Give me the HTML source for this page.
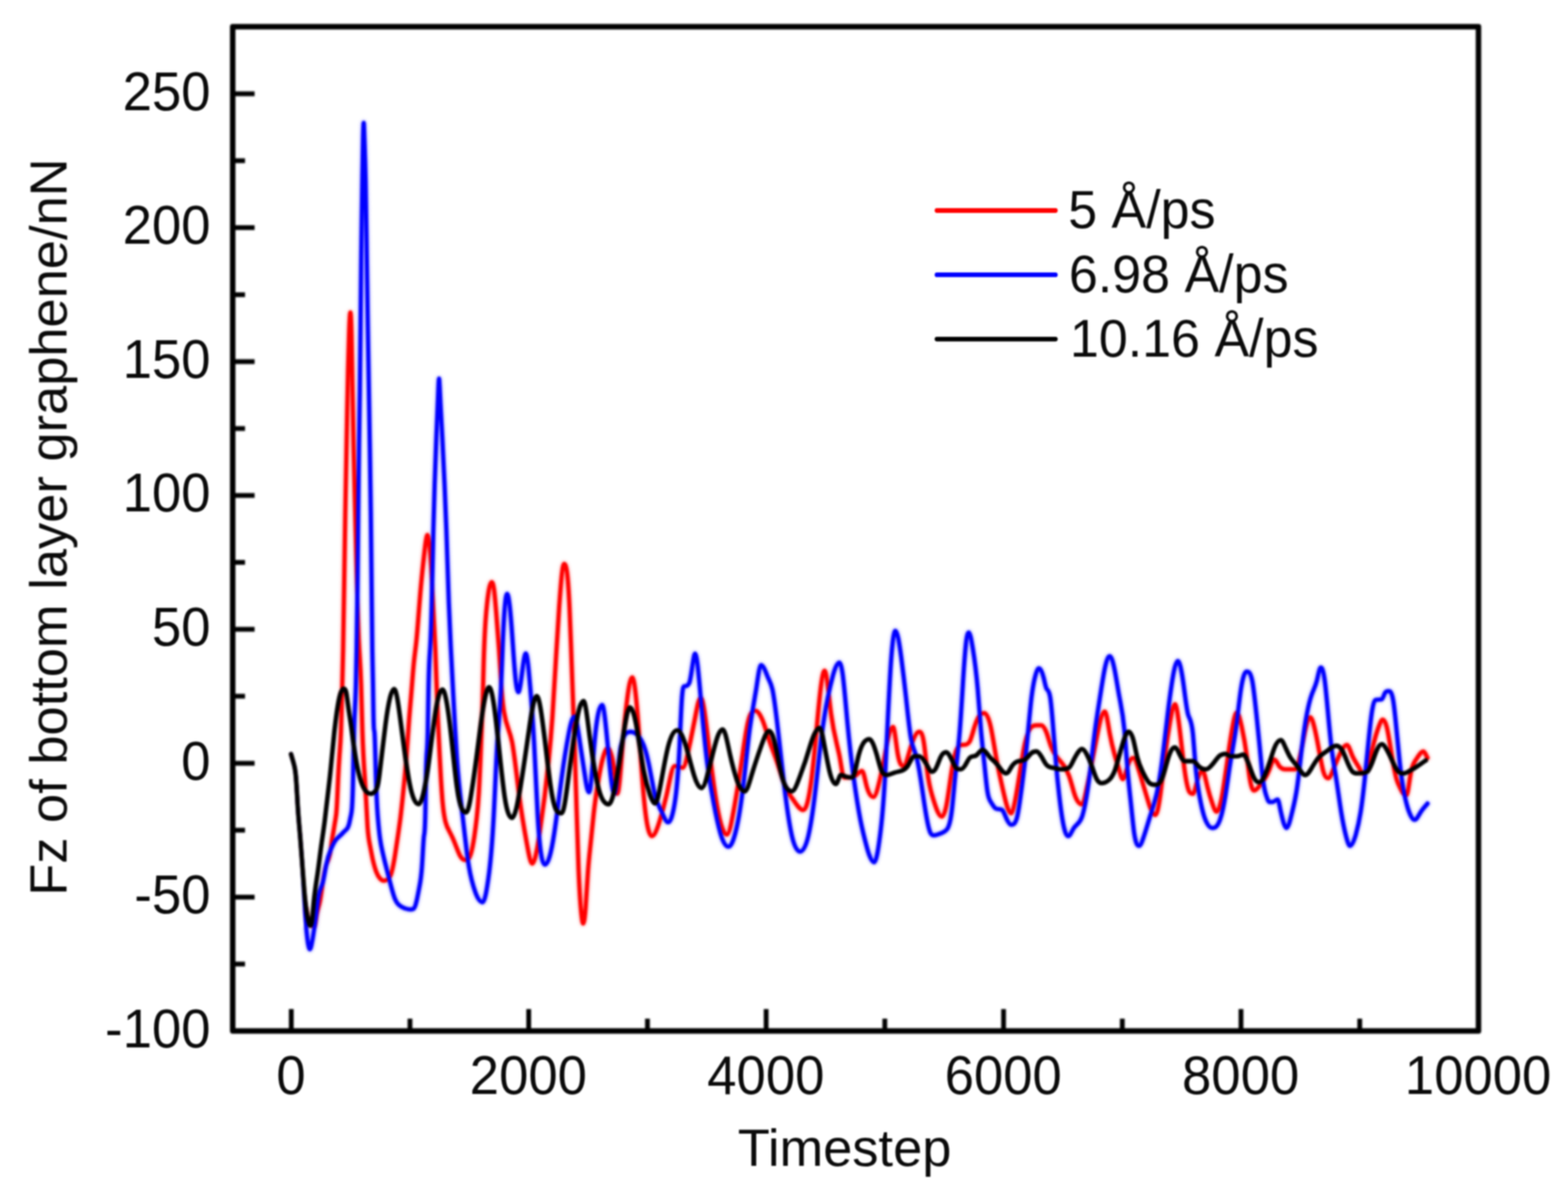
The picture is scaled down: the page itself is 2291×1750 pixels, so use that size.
<!DOCTYPE html>
<html lang="en">
<head>
<meta charset="utf-8">
<title>Fz of bottom layer graphene vs Timestep</title>
<style>
html,body{margin:0;padding:0;background:#fff;}
body{width:2291px;height:1750px;overflow:hidden;font-family:"Liberation Sans",Arial,sans-serif;}
svg{display:block;}
</style>
</head>
<body>
<svg xmlns="http://www.w3.org/2000/svg" width="2291" height="1750" viewBox="0 0 2291 1750">
<rect width="2291" height="1750" fill="#fff"/>
<g fill="none" stroke-linejoin="round" stroke-linecap="round" stroke-width="9" opacity="0.25" style="filter:blur(2.5px)">
<path stroke="#ff0000" d="M448.0 1330.0C449.0 1335.2 450.0 1341.4 451.0 1345.7C451.8 1349.2 452.6 1351.1 453.5 1351.1C454.4 1351.1 455.3 1347.0 456.2 1347.0C457.1 1347.0 458.0 1355.9 458.9 1355.9C460.2 1355.9 461.5 1344.5 462.7 1336.8C464.3 1327.2 465.9 1324.5 467.5 1316.4C468.9 1309.4 470.2 1298.4 471.6 1289.1C473.2 1278.3 474.8 1269.8 476.4 1264.5C478.6 1257.1 480.9 1256.4 483.2 1241.4C483.9 1236.9 484.5 1231.1 485.2 1226.4C485.9 1221.7 486.6 1218.1 487.3 1214.1C488.2 1208.8 489.1 1202.7 490.0 1197.7C490.7 1194.0 491.4 1190.8 492.0 1180.0C492.7 1169.2 493.4 1150.9 494.1 1136.4C494.8 1121.8 495.5 1111.2 496.1 1102.3C496.8 1093.4 497.5 1086.3 498.2 1068.2C498.8 1052.1 499.4 1027.2 500.0 1004.0C500.4 987.4 500.9 971.6 501.3 950.0C501.8 925.0 502.3 892.3 502.8 859.0C503.4 821.3 503.9 782.8 504.5 750.0C505.0 721.1 505.5 696.6 506.0 670.0C506.4 646.9 506.9 622.3 507.3 600.0C507.7 577.7 508.2 557.9 508.6 540.0C509.1 520.8 509.5 503.9 510.0 490.0C510.6 471.2 511.3 456.5 511.9 456.5C512.5 456.5 513.0 463.7 513.6 490.0C514.0 508.6 514.4 536.1 514.8 560.0C515.4 595.9 516.0 623.7 516.6 650.0C517.4 685.0 518.2 717.2 519.0 750.0C519.8 784.1 520.7 818.8 521.5 850.0C522.5 887.4 523.5 919.7 524.5 940.0C525.5 961.0 526.6 969.3 527.6 1000.0C528.2 1019.2 528.9 1047.3 529.5 1068.2C530.7 1104.8 531.8 1119.3 533.0 1136.4C533.6 1146.6 534.3 1157.8 535.0 1170.5C535.7 1183.1 536.4 1197.3 537.0 1207.3C538.2 1223.9 539.3 1229.0 540.5 1234.5C541.8 1241.2 543.2 1248.7 544.5 1255.0C546.4 1263.3 548.2 1269.5 550.0 1274.1C551.8 1278.7 553.6 1281.6 555.5 1283.6C557.3 1285.6 559.1 1286.6 560.9 1286.6C562.7 1286.6 564.5 1285.7 566.4 1284.3C568.2 1283.0 570.0 1281.3 571.8 1275.5C573.6 1269.6 575.5 1259.7 577.3 1248.2C578.6 1239.6 580.0 1230.1 581.4 1220.9C582.6 1212.4 583.9 1204.1 585.2 1193.6C586.3 1184.6 587.4 1174.0 588.5 1163.6C590.2 1147.3 591.9 1131.7 593.6 1109.1C594.9 1092.3 596.2 1071.6 597.5 1054.5C598.7 1038.2 600.0 1025.1 601.2 1010.0C602.3 996.5 603.4 981.3 604.5 970.0C605.8 956.3 607.2 948.2 608.5 935.0C609.7 923.4 610.8 907.9 612.0 893.0C613.1 879.4 614.1 866.3 615.2 854.6C616.6 839.6 617.9 826.7 619.3 814.4C620.2 806.3 621.1 798.4 622.0 792.0C622.9 785.8 623.7 781.5 624.6 781.5C625.5 781.5 626.3 787.8 627.2 795.0C628.1 802.7 629.1 811.9 630.0 827.8C630.7 839.1 631.3 853.9 632.0 868.0C632.7 882.1 633.3 895.6 634.0 908.0C634.7 920.4 635.3 931.6 636.0 948.0C636.5 960.3 637.0 975.6 637.5 990.0C638.3 1014.0 639.2 1035.8 640.0 1054.5C640.9 1075.0 641.8 1091.9 642.7 1109.1C643.6 1126.3 644.5 1143.7 645.5 1156.8C646.1 1166.6 646.8 1174.0 647.5 1180.0C648.6 1190.0 649.8 1196.0 650.9 1200.5C652.7 1207.6 654.5 1210.8 656.4 1214.1C658.2 1217.4 660.0 1220.9 661.8 1225.0C663.6 1229.1 665.5 1234.0 667.3 1238.6C669.1 1243.3 670.9 1247.9 672.7 1250.9C675.5 1255.5 678.2 1256.4 680.9 1256.4C683.2 1256.4 685.5 1255.2 687.7 1248.2C689.5 1242.6 691.4 1233.2 693.2 1220.9C694.3 1213.4 695.4 1204.8 696.5 1195.0C697.5 1186.1 698.5 1176.2 699.5 1160.0C700.3 1147.6 701.0 1131.5 701.8 1113.0C702.4 1098.5 703.0 1082.6 703.6 1068.0C704.2 1054.3 704.7 1041.8 705.3 1022.0C705.7 1006.9 706.2 987.5 706.6 972.0C707.0 956.5 707.5 944.7 707.9 935.0C708.5 922.3 709.0 912.9 709.6 905.0C710.3 895.3 711.0 887.8 711.7 881.4C712.8 871.0 714.0 863.1 715.1 858.0C716.2 853.2 717.2 850.5 718.3 850.5C719.5 850.5 720.6 852.7 721.8 861.0C722.9 868.6 723.9 881.1 725.0 894.8C725.7 903.4 726.3 912.4 727.0 921.0C727.7 930.0 728.4 938.5 729.1 948.3C729.8 957.6 730.4 968.1 731.1 979.0C731.8 989.9 732.4 1001.1 733.1 1010.0C734.2 1024.7 735.3 1033.3 736.4 1040.0C740.3 1063.8 744.2 1063.9 748.2 1083.9C751.7 1102.1 755.3 1136.9 758.9 1164.2C762.4 1191.6 766.0 1211.6 769.6 1231.2C772.3 1245.9 774.9 1261.6 777.6 1261.6C781.2 1261.6 784.8 1241.7 788.3 1217.8C792.8 1187.9 797.3 1154.5 801.7 1110.7C803.5 1093.0 805.3 1073.7 807.1 1047.9C808.9 1022.0 810.7 989.6 812.5 958.6C814.0 932.8 815.5 907.9 817.0 887.0C819.4 854.0 821.7 823.8 824.1 823.8C826.8 823.8 829.4 828.8 832.1 887.0C832.8 902.3 833.5 920.7 834.2 940.0C835.0 963.0 835.9 987.2 836.7 1010.0C837.7 1036.5 838.6 1061.1 839.6 1090.0C840.5 1117.9 841.5 1149.9 842.4 1181.0C843.4 1214.3 844.4 1246.8 845.4 1271.0C846.5 1296.9 847.5 1313.4 848.6 1326.0C849.8 1339.7 850.9 1349.0 852.1 1349.0C853.3 1349.0 854.4 1341.2 855.6 1326.0C856.7 1311.2 857.9 1289.9 859.0 1274.0C860.4 1254.4 861.8 1243.2 863.2 1230.0C864.6 1216.5 866.1 1200.9 867.5 1188.0C869.3 1171.5 871.2 1159.4 873.0 1148.0C875.0 1135.5 877.0 1123.9 879.0 1115.0C880.7 1107.6 882.3 1102.1 884.0 1098.0C885.3 1094.7 886.7 1092.5 888.0 1092.5C889.7 1092.5 891.3 1096.6 893.0 1102.0C894.5 1107.0 896.1 1113.2 897.6 1126.2C899.0 1138.3 900.5 1159.4 901.9 1159.4C904.4 1159.4 907.0 1123.1 909.5 1090.5C911.9 1059.9 914.3 1037.3 916.7 1019.0C919.0 1000.8 921.4 989.4 923.8 989.4C927.0 989.4 930.2 1024.6 933.3 1066.7C935.7 1098.2 938.1 1135.5 940.5 1161.9C944.4 1206.0 948.4 1221.3 952.4 1221.3C956.3 1221.3 960.3 1210.8 964.3 1197.6C967.5 1187.1 970.6 1175.7 973.8 1161.9C977.8 1144.7 981.7 1119.0 985.7 1119.0C989.7 1119.0 993.7 1121.4 997.6 1121.4C1000.8 1121.4 1004.0 1105.2 1007.1 1090.5C1010.3 1075.7 1013.5 1059.2 1016.7 1042.9C1019.0 1030.6 1021.4 1019.1 1023.8 1019.1C1027.8 1019.1 1031.7 1057.3 1035.7 1090.5C1038.9 1117.0 1042.1 1141.2 1045.2 1161.9C1050.8 1198.2 1056.3 1219.0 1061.9 1219.0C1065.9 1219.0 1069.8 1196.1 1073.8 1173.8C1077.0 1156.0 1080.2 1136.2 1083.3 1114.3C1086.5 1092.4 1089.7 1068.4 1092.9 1054.8C1096.4 1039.4 1100.0 1038.2 1103.6 1038.2C1107.1 1038.2 1110.7 1043.6 1114.3 1052.4C1117.5 1060.2 1120.6 1071.4 1123.8 1081.0C1127.8 1092.9 1131.7 1102.3 1135.7 1114.3C1139.7 1126.3 1143.7 1140.8 1147.6 1150.0C1151.6 1159.2 1155.6 1163.1 1159.5 1169.0C1164.3 1176.2 1169.0 1183.3 1173.8 1183.3C1177.8 1183.3 1181.7 1168.8 1185.7 1138.1C1188.9 1113.5 1192.1 1076.9 1195.2 1042.9C1198.4 1008.8 1201.6 979.8 1204.8 979.8C1207.9 979.8 1211.1 1018.8 1214.3 1042.9C1218.3 1072.9 1222.2 1083.5 1226.2 1102.4C1228.6 1113.7 1231.0 1135.7 1233.3 1135.7C1237.3 1135.7 1241.3 1135.7 1245.2 1135.7C1250.0 1135.7 1254.8 1126.3 1259.5 1126.3C1261.9 1126.3 1264.3 1142.1 1266.7 1150.0C1269.8 1160.6 1273.0 1164.2 1276.2 1164.2C1279.4 1164.2 1282.5 1151.5 1285.7 1138.1C1288.9 1124.7 1292.1 1108.2 1295.2 1090.5C1298.4 1072.8 1301.6 1062.0 1304.8 1062.0C1307.1 1062.0 1309.5 1089.3 1311.9 1102.4C1314.7 1117.6 1317.5 1119.0 1320.2 1119.0C1323.8 1119.0 1327.4 1101.3 1331.0 1090.5C1334.9 1078.4 1338.9 1069.1 1342.9 1069.1C1345.2 1069.1 1347.6 1069.7 1350.0 1085.7C1351.6 1096.4 1353.2 1113.6 1354.8 1126.2C1357.1 1145.1 1359.5 1153.8 1361.9 1161.9C1364.3 1170.0 1366.7 1177.5 1369.0 1183.3C1371.4 1189.2 1373.8 1192.8 1376.2 1192.8C1378.6 1192.8 1381.0 1186.5 1383.3 1173.8C1385.7 1161.1 1388.1 1141.2 1390.5 1126.2C1392.9 1111.2 1395.2 1100.6 1397.6 1095.2C1400.8 1088.1 1404.0 1088.1 1407.1 1088.1C1410.3 1088.1 1413.5 1088.1 1416.7 1083.3C1419.0 1079.8 1421.4 1069.4 1423.8 1061.9C1426.2 1054.4 1428.6 1048.7 1431.0 1045.2C1433.3 1041.8 1435.7 1041.7 1438.1 1041.7C1441.3 1041.7 1444.4 1047.6 1447.6 1061.9C1450.0 1072.6 1452.4 1088.7 1454.8 1102.4C1457.1 1116.0 1459.5 1127.2 1461.9 1138.1C1464.3 1149.0 1466.7 1159.5 1469.0 1169.0C1471.8 1180.2 1474.6 1188.0 1477.4 1188.0C1479.4 1188.0 1481.3 1179.1 1483.3 1169.0C1485.7 1157.0 1488.1 1141.4 1490.5 1126.2C1492.9 1111.0 1495.2 1096.3 1497.6 1085.7C1500.8 1071.6 1504.0 1064.8 1507.1 1061.9C1509.5 1059.8 1511.9 1059.5 1514.3 1059.5C1516.7 1059.5 1519.0 1059.5 1521.4 1059.5C1523.8 1059.5 1526.2 1063.2 1528.6 1069.0C1531.0 1074.9 1533.3 1084.0 1535.7 1090.5C1538.9 1099.2 1542.1 1103.3 1545.2 1107.1C1548.4 1111.0 1551.6 1114.4 1554.8 1119.0C1557.1 1122.5 1559.5 1126.7 1561.9 1133.3C1564.3 1140.0 1566.7 1149.0 1569.0 1157.1C1573.0 1170.6 1577.0 1174.9 1581.0 1174.9C1583.3 1174.9 1585.7 1161.0 1588.1 1150.0C1591.3 1135.4 1594.4 1119.1 1597.6 1102.4C1600.8 1085.7 1604.0 1068.6 1607.1 1054.8C1609.5 1044.4 1611.9 1039.4 1614.3 1039.4C1616.7 1039.4 1619.0 1058.7 1621.4 1071.4C1623.8 1084.2 1626.2 1093.9 1628.6 1102.4C1631.0 1110.8 1633.3 1118.0 1635.7 1126.2C1637.3 1131.7 1638.9 1138.0 1640.5 1138.0C1642.9 1138.0 1645.2 1127.0 1647.6 1119.0C1650.4 1109.7 1653.2 1107.2 1656.0 1107.2C1658.7 1107.2 1661.5 1117.3 1664.3 1126.2C1666.7 1133.8 1669.0 1141.9 1671.4 1150.0C1673.8 1158.1 1676.2 1166.1 1678.6 1173.8C1681.7 1184.0 1684.9 1190.4 1688.1 1190.4C1690.5 1190.4 1692.9 1178.5 1695.2 1161.9C1697.6 1145.3 1700.0 1121.5 1702.4 1102.4C1704.8 1083.3 1707.1 1068.8 1709.5 1054.8C1711.9 1040.7 1714.3 1028.7 1716.7 1028.7C1719.0 1028.7 1721.4 1046.8 1723.8 1066.7C1726.2 1086.6 1728.6 1109.8 1731.0 1126.2C1733.3 1142.6 1735.7 1153.6 1738.1 1157.1C1739.7 1159.5 1741.3 1159.5 1742.9 1159.5C1745.2 1159.5 1747.6 1146.3 1750.0 1138.1C1752.4 1129.9 1754.8 1126.3 1757.1 1126.3C1759.5 1126.3 1761.9 1140.5 1764.3 1150.0C1766.7 1159.5 1769.0 1166.8 1771.4 1173.8C1773.4 1179.6 1775.4 1185.6 1777.4 1185.6C1780.2 1185.6 1782.9 1177.1 1785.7 1161.9C1788.1 1148.8 1790.5 1131.3 1792.9 1114.3C1795.2 1097.3 1797.6 1080.7 1800.0 1066.7C1802.4 1052.6 1804.8 1040.6 1807.1 1040.6C1809.5 1040.6 1811.9 1050.8 1814.3 1061.9C1816.7 1073.1 1819.0 1084.7 1821.4 1102.4C1823.0 1114.2 1824.6 1128.7 1826.2 1138.1C1828.2 1149.9 1830.2 1154.7 1832.1 1154.7C1834.9 1154.7 1837.7 1151.4 1840.5 1147.6C1842.9 1144.4 1845.2 1141.7 1847.6 1138.1C1850.0 1134.5 1852.4 1129.9 1854.8 1123.8C1857.1 1117.7 1859.5 1109.6 1861.9 1109.6C1864.3 1109.6 1866.7 1115.6 1869.0 1119.0C1872.2 1123.6 1875.4 1123.8 1878.6 1123.8C1883.3 1123.8 1888.1 1123.8 1892.9 1123.8C1895.2 1123.8 1897.6 1113.0 1900.0 1102.4C1902.4 1091.8 1904.8 1077.7 1907.1 1066.7C1909.5 1055.6 1911.9 1047.7 1914.3 1047.7C1916.7 1047.7 1919.0 1056.1 1921.4 1066.7C1923.0 1073.7 1924.6 1081.8 1926.2 1090.5C1928.6 1103.4 1931.0 1117.6 1933.3 1126.2C1935.7 1134.8 1938.1 1136.8 1940.5 1136.8C1943.7 1136.8 1946.8 1126.9 1950.0 1119.0C1953.2 1111.2 1956.3 1104.2 1959.5 1097.6C1962.3 1091.9 1965.1 1088.2 1967.9 1088.2C1970.6 1088.2 1973.4 1098.6 1976.2 1104.8C1979.4 1111.8 1982.5 1115.5 1985.7 1121.4C1988.1 1125.9 1990.5 1130.9 1992.9 1130.9C1995.2 1130.9 1997.6 1123.1 2000.0 1114.3C2002.4 1105.5 2004.8 1095.0 2007.1 1085.7C2009.5 1076.5 2011.9 1068.5 2014.3 1061.9C2016.3 1056.4 2018.3 1051.3 2020.2 1051.3C2022.2 1051.3 2024.2 1053.9 2026.2 1061.9C2028.6 1071.5 2031.0 1087.7 2033.3 1102.4C2035.7 1117.0 2038.1 1130.0 2040.5 1138.1C2042.9 1146.2 2045.2 1149.4 2047.6 1154.8C2050.0 1160.1 2052.4 1161.8 2054.8 1161.8C2057.1 1161.8 2059.5 1136.9 2061.9 1126.2C2064.3 1115.5 2066.7 1113.1 2069.0 1109.5C2072.6 1104.1 2076.2 1097.7 2079.8 1097.7C2081.7 1097.7 2083.7 1104.0 2085.7 1107.1"/>
<path stroke="#0000ff" d="M447.6 1357.1C448.4 1364.0 449.2 1372.4 450.0 1377.7C451.0 1383.7 451.9 1386.6 452.8 1386.6C453.7 1386.6 454.7 1382.6 455.6 1377.7C456.8 1372.0 457.9 1364.8 459.0 1357.1C460.1 1349.8 461.2 1342.0 462.3 1333.3C463.4 1324.9 464.4 1315.7 465.5 1309.5C467.5 1297.5 469.5 1296.9 471.6 1289.1C473.2 1283.0 474.8 1272.5 476.4 1264.5C478.6 1253.2 480.9 1246.9 483.2 1241.4C485.5 1235.8 487.7 1231.0 490.0 1227.7C492.7 1223.8 495.5 1222.1 498.2 1219.5C500.5 1217.4 502.7 1214.6 505.0 1212.7C506.6 1211.4 508.2 1210.5 509.8 1204.5C510.7 1201.2 511.6 1196.1 512.5 1192.3C513.1 1189.8 513.7 1187.7 514.3 1180.0C514.8 1172.9 515.4 1160.9 515.9 1136.4C516.4 1116.0 516.8 1086.9 517.3 1068.2C518.2 1030.8 519.1 1035.0 520.0 1000.0C520.3 987.2 520.7 969.1 521.0 950.0C521.4 925.2 521.9 898.6 522.3 860.0C522.7 827.4 523.0 786.2 523.4 750.0C523.8 710.5 524.2 677.1 524.6 650.0C525.0 622.9 525.4 602.2 525.8 570.0C526.1 543.1 526.5 508.2 526.8 474.0C527.2 436.4 527.5 399.6 527.9 369.0C528.4 327.3 528.9 297.2 529.4 265.0C529.7 243.5 530.1 221.2 530.4 205.0C530.7 188.8 531.1 179.5 531.4 179.5C531.8 179.5 532.1 193.4 532.5 205.0C533.1 222.9 533.6 236.5 534.2 265.0C534.7 291.8 535.3 331.7 535.8 369.0C536.3 406.3 536.9 441.2 537.4 474.0C537.9 506.8 538.5 537.7 539.0 570.0C539.4 596.3 539.9 623.5 540.3 650.0C540.8 680.6 541.3 710.3 541.8 750.0C542.2 781.8 542.6 819.9 543.0 860.0C543.3 893.4 543.7 928.1 544.0 950.0C544.3 971.9 544.7 981.1 545.0 1000.0C545.3 1018.1 545.6 1047.0 546.0 1057.1C546.3 1068.2 546.7 1066.0 547.0 1068.2C547.8 1073.0 548.5 1110.2 549.3 1136.4C549.9 1156.3 550.5 1169.8 551.1 1180.0C551.7 1190.9 552.4 1198.0 553.0 1204.5C553.8 1213.0 554.6 1220.5 555.5 1226.4C556.5 1233.6 557.5 1238.3 558.5 1242.7C559.8 1248.8 561.2 1254.3 562.5 1259.8C564.0 1265.8 565.5 1271.6 567.0 1277.5C568.6 1283.7 570.2 1289.9 571.8 1295.9C573.6 1302.7 575.5 1309.3 577.3 1313.6C579.1 1318.0 580.9 1320.2 582.7 1321.8C585.5 1324.3 588.2 1325.7 590.9 1326.6C593.6 1327.5 596.4 1328.6 599.1 1328.6C600.9 1328.6 602.7 1328.6 604.5 1327.3C605.9 1326.2 607.3 1322.0 608.6 1316.4C610.0 1310.7 611.4 1302.9 612.7 1295.9C614.1 1288.9 615.5 1282.7 616.8 1261.8C617.7 1247.9 618.6 1227.4 619.5 1220.9C620.2 1216.1 620.9 1219.1 621.6 1180.0C621.8 1167.0 622.0 1149.3 622.3 1136.4C623.2 1084.8 624.1 1110.4 625.0 1068.2C625.3 1052.7 625.7 1028.1 626.0 1010.0C626.9 963.0 627.7 960.2 628.6 945.0C629.3 932.2 630.1 910.5 630.8 881.0C631.6 848.8 632.4 807.2 633.2 774.0C633.8 747.7 634.5 726.6 635.1 707.0C635.9 682.2 636.7 659.7 637.5 640.0C638.2 622.8 638.9 607.7 639.6 590.0C640.0 580.7 640.3 570.8 640.7 563.0C641.0 557.4 641.2 553.0 641.5 553.0C641.8 553.0 642.0 557.8 642.3 563.0C642.7 571.4 643.2 581.1 643.6 590.0C644.5 608.4 645.4 623.2 646.3 640.0C647.4 660.0 648.4 682.8 649.5 707.0C650.4 727.4 651.3 748.7 652.2 774.0C653.4 807.7 654.6 848.6 655.8 881.0C656.7 906.2 657.7 926.2 658.6 945.0C659.7 967.8 660.9 988.8 662.0 1010.0C663.9 1046.3 665.9 1083.3 667.8 1110.7C670.5 1148.6 673.2 1168.3 675.8 1191.0C678.5 1213.8 681.2 1239.7 683.9 1258.0C687.4 1282.4 691.0 1293.5 694.6 1303.5C698.2 1313.6 701.7 1317.9 705.3 1317.9C708.0 1317.9 710.7 1303.0 713.3 1284.8C716.0 1266.6 718.7 1241.5 721.4 1191.0C723.2 1157.4 724.9 1112.4 726.7 1083.9C728.5 1055.4 730.3 1043.3 732.1 1003.6C732.9 984.9 733.8 960.1 734.6 940.0C736.7 889.7 738.8 867.5 740.9 867.5C743.0 867.5 745.2 885.8 747.3 913.6C749.1 937.1 750.9 966.6 752.7 986.0C754.2 1002.5 755.8 1011.0 757.3 1011.0C761.0 1011.0 764.6 954.5 768.3 954.5C770.4 954.5 772.6 979.1 774.7 1004.0C776.6 1025.8 778.4 1049.3 780.3 1083.9C782.1 1117.1 783.9 1160.4 785.6 1191.0C789.2 1252.3 792.8 1263.0 796.4 1263.0C800.8 1263.0 805.3 1246.6 809.7 1217.8C813.3 1194.8 816.9 1163.9 820.5 1137.5C824.0 1111.1 827.6 1089.2 831.2 1070.5C833.9 1056.5 836.5 1046.8 839.2 1046.8C841.9 1046.8 844.6 1066.2 847.2 1083.9C849.9 1101.6 852.6 1119.9 855.3 1137.5C857.1 1149.2 858.8 1157.2 860.6 1157.2C863.3 1157.2 866.0 1113.3 868.7 1083.9C872.4 1043.4 876.1 1029.8 879.8 1029.8C882.5 1029.8 885.3 1061.6 888.1 1090.5C891.3 1123.5 894.4 1159.4 897.6 1159.4C900.8 1159.4 904.0 1104.7 907.1 1090.5C911.9 1069.1 916.7 1069.1 921.4 1069.1C927.0 1069.1 932.5 1072.8 938.1 1083.3C941.3 1089.3 944.4 1099.3 947.6 1114.3C950.8 1129.3 954.0 1149.5 957.1 1161.9C960.3 1174.3 963.5 1179.1 966.7 1185.7C969.8 1192.4 973.0 1201.1 976.2 1201.1C979.4 1201.1 982.5 1193.0 985.7 1173.8C988.1 1159.4 990.5 1138.9 992.9 1090.5C994.0 1066.2 995.2 1035.0 996.4 1019.0C997.6 1003.1 998.8 1002.4 1000.0 1002.4C1002.4 1002.4 1004.8 1002.4 1007.1 997.6C1008.7 994.4 1010.3 981.8 1011.9 971.4C1013.1 963.6 1014.3 954.8 1015.5 954.8C1018.3 954.8 1021.0 987.0 1023.8 1019.0C1027.0 1055.6 1030.2 1088.9 1033.3 1114.3C1036.5 1139.7 1039.7 1157.3 1042.9 1173.8C1046.0 1190.3 1049.2 1205.6 1052.4 1216.7C1056.3 1230.5 1060.3 1236.8 1064.3 1236.8C1068.3 1236.8 1072.2 1227.0 1076.2 1209.5C1079.4 1195.6 1082.5 1176.1 1085.7 1150.0C1088.9 1123.9 1092.1 1091.0 1095.2 1066.7C1098.4 1042.3 1101.6 1026.5 1104.8 1007.1C1107.1 992.6 1109.5 971.5 1111.9 971.5C1115.1 971.5 1118.3 980.0 1121.4 988.1C1123.8 994.2 1126.2 996.6 1128.6 1007.1C1131.7 1021.2 1134.9 1049.7 1138.1 1078.6C1141.3 1107.5 1144.4 1136.8 1147.6 1161.9C1150.8 1187.0 1154.0 1207.8 1157.1 1221.4C1161.1 1238.4 1165.1 1244.0 1169.0 1244.0C1173.0 1244.0 1177.0 1238.0 1181.0 1221.4C1184.1 1208.1 1187.3 1188.0 1190.5 1161.9C1193.7 1135.8 1196.8 1103.8 1200.0 1078.6C1203.2 1053.3 1206.3 1034.7 1209.5 1019.0C1211.9 1007.3 1214.3 997.1 1216.7 988.1C1219.8 976.0 1223.0 967.9 1226.2 967.9C1227.8 967.9 1229.4 972.9 1231.0 983.3C1233.3 999.0 1235.7 1029.1 1238.1 1054.8C1241.3 1088.9 1244.4 1115.0 1247.6 1138.1C1250.8 1161.2 1254.0 1181.3 1257.1 1197.6C1260.3 1213.9 1263.5 1226.3 1266.7 1238.1C1270.2 1251.3 1273.8 1259.4 1277.4 1259.4C1280.2 1259.4 1282.9 1242.7 1285.7 1221.4C1288.1 1203.2 1290.5 1179.3 1292.9 1138.1C1294.4 1110.6 1296.0 1075.5 1297.6 1042.9C1299.2 1010.3 1300.8 980.2 1302.4 959.5C1304.4 933.7 1306.3 921.5 1308.3 921.5C1311.1 921.5 1313.9 938.6 1316.7 959.5C1319.0 977.4 1321.4 997.1 1323.8 1019.0C1326.2 1041.0 1328.6 1065.1 1331.0 1078.6C1333.3 1092.0 1335.7 1094.7 1338.1 1102.4C1340.5 1110.1 1342.9 1122.8 1345.2 1138.1C1347.6 1153.3 1350.0 1171.1 1352.4 1185.7C1354.8 1200.3 1357.1 1211.8 1359.5 1216.7C1361.1 1219.9 1362.7 1220.2 1364.3 1220.2C1368.3 1220.2 1372.2 1218.4 1376.2 1216.7C1378.6 1215.6 1381.0 1214.6 1383.3 1211.9C1385.7 1209.2 1388.1 1204.7 1390.5 1185.7C1392.1 1173.1 1393.7 1154.0 1395.2 1138.1C1397.6 1114.2 1400.0 1097.2 1402.4 1066.7C1404.0 1046.3 1405.6 1019.8 1407.1 995.2C1408.7 970.6 1410.3 947.9 1411.9 935.7C1413.1 926.6 1414.3 923.9 1415.5 923.9C1417.5 923.9 1419.4 935.3 1421.4 947.6C1423.8 962.4 1426.2 979.7 1428.6 1007.1C1430.2 1025.5 1431.7 1048.4 1433.3 1066.7C1434.9 1085.0 1436.5 1098.7 1438.1 1114.3C1439.7 1129.9 1441.3 1147.4 1442.9 1157.1C1444.4 1166.9 1446.0 1169.0 1447.6 1171.4C1450.0 1175.1 1452.4 1179.5 1454.8 1181.0C1457.9 1182.9 1461.1 1181.0 1464.3 1183.3C1466.7 1185.1 1469.0 1193.1 1471.4 1197.6C1473.4 1201.4 1475.4 1204.7 1477.4 1204.7C1480.2 1204.7 1482.9 1204.7 1485.7 1195.2C1488.1 1187.1 1490.5 1168.0 1492.9 1150.0C1495.2 1132.0 1497.6 1113.9 1500.0 1090.5C1502.4 1067.1 1504.8 1038.5 1507.1 1019.0C1508.7 1006.1 1510.3 997.2 1511.9 990.5C1513.9 982.1 1515.9 976.3 1517.9 976.3C1520.2 976.3 1522.6 980.5 1525.0 990.5C1526.2 995.5 1527.4 1001.7 1528.6 1004.8C1530.6 1009.9 1532.5 1006.4 1534.5 1019.0C1535.7 1026.7 1536.9 1040.1 1538.1 1054.8C1539.7 1074.3 1541.3 1095.8 1542.9 1114.3C1544.4 1132.7 1546.0 1148.0 1547.6 1161.9C1549.2 1175.8 1550.8 1188.2 1552.4 1197.6C1555.2 1214.1 1557.9 1221.3 1560.7 1221.3C1563.5 1221.3 1566.3 1213.8 1569.0 1209.5C1573.0 1203.5 1577.0 1204.1 1581.0 1192.9C1582.5 1188.4 1584.1 1182.0 1585.7 1173.8C1588.1 1161.6 1590.5 1145.4 1592.9 1126.2C1595.2 1107.0 1597.6 1084.9 1600.0 1066.7C1602.4 1048.5 1604.8 1034.2 1607.1 1019.0C1609.5 1003.8 1611.9 987.7 1614.3 976.2C1616.7 964.7 1619.0 958.4 1621.4 958.4C1623.8 958.4 1626.2 966.7 1628.6 978.6C1631.0 990.4 1633.3 1006.3 1635.7 1019.0C1638.1 1031.8 1640.5 1041.4 1642.9 1066.7C1644.4 1083.5 1646.0 1107.4 1647.6 1126.2C1649.2 1145.0 1650.8 1158.6 1652.4 1173.8C1654.0 1189.0 1655.6 1205.7 1657.1 1216.7C1659.5 1233.1 1661.9 1235.6 1664.3 1235.6C1666.7 1235.6 1669.0 1228.5 1671.4 1221.4C1674.6 1212.0 1677.8 1200.6 1681.0 1190.5C1684.1 1180.4 1687.3 1171.7 1690.5 1157.1C1692.9 1146.3 1695.2 1132.1 1697.6 1114.3C1700.0 1096.5 1702.4 1074.9 1704.8 1054.8C1707.1 1034.6 1709.5 1015.8 1711.9 1000.0C1714.9 980.0 1717.9 965.6 1721.0 965.6C1723.5 965.6 1726.0 977.6 1728.6 995.2C1731.0 1011.7 1733.3 1033.5 1735.7 1042.9C1738.1 1052.2 1740.5 1049.0 1742.9 1071.4C1744.0 1082.7 1745.2 1100.3 1746.4 1114.3C1748.4 1137.6 1750.4 1150.8 1752.4 1161.9C1754.8 1175.2 1757.1 1185.6 1759.5 1192.9C1763.5 1205.0 1767.5 1209.4 1771.4 1209.4C1775.4 1209.4 1779.4 1207.8 1783.3 1195.2C1785.7 1187.7 1788.1 1176.5 1790.5 1161.9C1792.9 1147.3 1795.2 1129.3 1797.6 1114.3C1800.8 1094.2 1804.0 1079.4 1807.1 1054.8C1809.1 1039.3 1811.1 1020.1 1813.1 1007.1C1815.9 989.0 1818.7 981.0 1821.4 981.0C1824.2 981.0 1827.0 981.0 1829.8 995.2C1831.7 1005.4 1833.7 1024.0 1835.7 1042.9C1837.3 1057.9 1838.9 1073.5 1840.5 1090.5C1842.1 1107.4 1843.7 1125.7 1845.2 1138.1C1846.8 1150.5 1848.4 1157.1 1850.0 1161.9C1851.6 1166.7 1853.2 1171.4 1854.8 1171.4C1856.3 1171.4 1857.9 1171.4 1859.5 1171.4C1861.9 1171.4 1864.3 1167.9 1866.7 1167.9C1868.3 1167.9 1869.8 1178.5 1871.4 1185.7C1874.2 1198.3 1877.0 1209.4 1879.8 1209.4C1882.5 1209.4 1885.3 1197.2 1888.1 1185.7C1890.5 1175.9 1892.9 1166.5 1895.2 1150.0C1897.6 1133.5 1900.0 1110.0 1902.4 1090.5C1904.8 1070.9 1907.1 1055.4 1909.5 1042.9C1911.9 1030.3 1914.3 1020.9 1916.7 1014.3C1919.0 1007.7 1921.4 1004.0 1923.8 995.2C1925.8 987.9 1927.8 975.1 1929.8 975.1C1931.7 975.1 1933.7 979.8 1935.7 995.2C1937.3 1007.6 1938.9 1025.5 1940.5 1042.9C1942.1 1060.2 1943.7 1077.1 1945.2 1090.5C1947.6 1110.6 1950.0 1123.0 1952.4 1138.1C1954.8 1153.2 1957.1 1170.9 1959.5 1185.7C1961.9 1200.5 1964.3 1212.3 1966.7 1221.4C1968.7 1229.0 1970.6 1235.6 1972.6 1235.6C1975.4 1235.6 1978.2 1228.8 1981.0 1219.0C1983.3 1210.7 1985.7 1201.0 1988.1 1185.7C1990.5 1170.4 1992.9 1149.4 1995.2 1126.2C1996.8 1110.7 1998.4 1094.3 2000.0 1078.6C2001.6 1062.8 2003.2 1047.7 2004.8 1038.1C2006.3 1028.5 2007.9 1023.2 2009.5 1022.6C2012.7 1021.4 2015.9 1022.6 2019.0 1021.4C2020.6 1020.8 2022.2 1014.3 2023.8 1011.9C2025.4 1009.5 2027.0 1009.5 2028.6 1009.5C2031.0 1009.5 2033.3 1009.5 2035.7 1023.8C2037.3 1033.3 2038.9 1050.1 2040.5 1066.7C2042.1 1083.3 2043.7 1100.0 2045.2 1114.3C2046.8 1128.6 2048.4 1140.4 2050.0 1150.0C2052.4 1164.3 2054.8 1173.5 2057.1 1181.0C2060.3 1190.8 2063.5 1197.5 2066.7 1197.5C2069.8 1197.5 2073.0 1190.8 2076.2 1185.7C2079.4 1180.6 2082.5 1177.8 2085.7 1173.8"/>
</g>
<g fill="none" stroke-linejoin="round" stroke-linecap="round" stroke-width="6.0" style="filter:blur(1.6px)">
<path stroke="#ff0000" stroke-width="6.0" d="M425.2 1101.6C426.6 1106.4 428.0 1111.1 429.3 1115.9C430.4 1119.6 431.4 1123.4 432.5 1136.4C433.4 1147.6 434.3 1165.9 435.2 1180.0C436.3 1197.0 437.4 1208.0 438.5 1220.9C439.5 1233.3 440.5 1247.3 441.6 1261.8C442.6 1276.3 443.7 1291.2 444.7 1302.7C445.8 1314.7 446.9 1323.1 448.0 1330.0C449.0 1336.4 450.0 1341.6 451.0 1345.7C451.8 1349.1 452.6 1351.1 453.5 1351.1C454.4 1351.1 455.3 1347.0 456.2 1347.0C457.1 1347.0 458.0 1355.9 458.9 1355.9C460.2 1355.9 461.5 1344.5 462.7 1336.8C464.3 1327.2 465.9 1324.5 467.5 1316.4C468.9 1309.4 470.2 1298.4 471.6 1289.1C473.2 1278.3 474.8 1269.8 476.4 1264.5C478.6 1257.1 480.9 1256.4 483.2 1241.4C483.9 1236.9 484.5 1231.1 485.2 1226.4C485.9 1221.7 486.6 1218.1 487.3 1214.1C488.2 1208.8 489.1 1202.7 490.0 1197.7C490.7 1194.0 491.4 1190.8 492.0 1180.0C492.7 1169.2 493.4 1150.9 494.1 1136.4C494.8 1121.8 495.5 1111.2 496.1 1102.3C496.8 1093.4 497.5 1086.3 498.2 1068.2C498.8 1052.1 499.4 1027.2 500.0 1004.0C500.4 987.4 500.9 971.6 501.3 950.0C501.8 925.0 502.3 892.3 502.8 859.0C503.4 821.3 503.9 782.8 504.5 750.0C505.0 721.1 505.5 696.6 506.0 670.0C506.4 646.9 506.9 622.3 507.3 600.0C507.7 577.7 508.2 557.9 508.6 540.0C509.1 520.8 509.5 503.9 510.0 490.0C510.6 471.2 511.3 456.5 511.9 456.5C512.5 456.5 513.0 463.7 513.6 490.0C514.0 508.6 514.4 536.1 514.8 560.0C515.4 595.9 516.0 623.7 516.6 650.0C517.4 685.0 518.2 717.2 519.0 750.0C519.8 784.1 520.7 818.8 521.5 850.0C522.5 887.4 523.5 919.7 524.5 940.0C525.5 961.0 526.6 969.3 527.6 1000.0C528.2 1019.2 528.9 1047.3 529.5 1068.2C530.7 1104.8 531.8 1119.3 533.0 1136.4C533.6 1146.6 534.3 1157.8 535.0 1170.5C535.7 1183.1 536.4 1197.3 537.0 1207.3C538.2 1223.9 539.3 1229.0 540.5 1234.5C541.8 1241.2 543.2 1248.7 544.5 1255.0C546.4 1263.3 548.2 1269.5 550.0 1274.1C551.8 1278.7 553.6 1281.6 555.5 1283.6C557.3 1285.6 559.1 1286.6 560.9 1286.6C562.7 1286.6 564.5 1285.7 566.4 1284.3C568.2 1283.0 570.0 1281.3 571.8 1275.5C573.6 1269.6 575.5 1259.7 577.3 1248.2C578.6 1239.6 580.0 1230.1 581.4 1220.9C582.6 1212.4 583.9 1204.1 585.2 1193.6C586.3 1184.6 587.4 1174.0 588.5 1163.6C590.2 1147.3 591.9 1131.7 593.6 1109.1C594.9 1092.3 596.2 1071.6 597.5 1054.5C598.7 1038.2 600.0 1025.1 601.2 1010.0C602.3 996.5 603.4 981.3 604.5 970.0C605.8 956.3 607.2 948.2 608.5 935.0C609.7 923.4 610.8 907.9 612.0 893.0C613.1 879.4 614.1 866.3 615.2 854.6C616.6 839.6 617.9 826.7 619.3 814.4C620.2 806.3 621.1 798.4 622.0 792.0C622.9 785.8 623.7 781.5 624.6 781.5C625.5 781.5 626.3 787.8 627.2 795.0C628.1 802.7 629.1 811.9 630.0 827.8C630.7 839.1 631.3 853.9 632.0 868.0C632.7 882.1 633.3 895.6 634.0 908.0C634.7 920.4 635.3 931.6 636.0 948.0C636.5 960.3 637.0 975.6 637.5 990.0C638.3 1014.0 639.2 1035.8 640.0 1054.5C640.9 1075.0 641.8 1091.9 642.7 1109.1C643.6 1126.3 644.5 1143.7 645.5 1156.8C646.1 1166.6 646.8 1174.0 647.5 1180.0C648.6 1190.0 649.8 1196.0 650.9 1200.5C652.7 1207.6 654.5 1210.8 656.4 1214.1C658.2 1217.4 660.0 1220.9 661.8 1225.0C663.6 1229.1 665.5 1234.0 667.3 1238.6C669.1 1243.3 670.9 1247.9 672.7 1250.9C675.5 1255.5 678.2 1256.4 680.9 1256.4C683.2 1256.4 685.5 1255.2 687.7 1248.2C689.5 1242.6 691.4 1233.2 693.2 1220.9C694.3 1213.4 695.4 1204.8 696.5 1195.0C697.5 1186.1 698.5 1176.2 699.5 1160.0C700.3 1147.6 701.0 1131.5 701.8 1113.0C702.4 1098.5 703.0 1082.6 703.6 1068.0C704.2 1054.3 704.7 1041.8 705.3 1022.0C705.7 1006.9 706.2 987.5 706.6 972.0C707.0 956.5 707.5 944.7 707.9 935.0C708.5 922.3 709.0 912.9 709.6 905.0C710.3 895.3 711.0 887.8 711.7 881.4C712.8 871.0 714.0 863.1 715.1 858.0C716.2 853.2 717.2 850.5 718.3 850.5C719.5 850.5 720.6 852.7 721.8 861.0C722.9 868.6 723.9 881.1 725.0 894.8C725.7 903.4 726.3 912.4 727.0 921.0C727.7 930.0 728.4 938.5 729.1 948.3C729.8 957.6 730.4 968.1 731.1 979.0C731.8 989.9 732.4 1001.1 733.1 1010.0C734.2 1024.7 735.3 1033.3 736.4 1040.0C740.3 1063.8 744.2 1063.9 748.2 1083.9C751.7 1102.1 755.3 1136.9 758.9 1164.2C762.4 1191.6 766.0 1211.6 769.6 1231.2C772.3 1245.9 774.9 1261.6 777.6 1261.6C781.2 1261.6 784.8 1241.7 788.3 1217.8C792.8 1187.9 797.3 1154.5 801.7 1110.7C803.5 1093.0 805.3 1073.7 807.1 1047.9C808.9 1022.0 810.7 989.6 812.5 958.6C814.0 932.8 815.5 907.9 817.0 887.0C819.4 854.0 821.7 823.8 824.1 823.8C826.8 823.8 829.4 828.8 832.1 887.0C832.8 902.3 833.5 920.7 834.2 940.0C835.0 963.0 835.9 987.2 836.7 1010.0C837.7 1036.5 838.6 1061.1 839.6 1090.0C840.5 1117.9 841.5 1149.9 842.4 1181.0C843.4 1214.3 844.4 1246.8 845.4 1271.0C846.5 1296.9 847.5 1313.4 848.6 1326.0C849.8 1339.7 850.9 1349.0 852.1 1349.0C853.3 1349.0 854.4 1341.2 855.6 1326.0C856.7 1311.2 857.9 1289.9 859.0 1274.0C860.4 1254.4 861.8 1243.2 863.2 1230.0C864.6 1216.5 866.1 1200.9 867.5 1188.0C869.3 1171.5 871.2 1159.4 873.0 1148.0C875.0 1135.5 877.0 1123.9 879.0 1115.0C880.7 1107.6 882.3 1102.1 884.0 1098.0C885.3 1094.7 886.7 1092.5 888.0 1092.5C889.7 1092.5 891.3 1096.6 893.0 1102.0C894.5 1107.0 896.1 1113.2 897.6 1126.2C899.0 1138.3 900.5 1159.4 901.9 1159.4C904.4 1159.4 907.0 1123.1 909.5 1090.5C911.9 1059.9 914.3 1037.3 916.7 1019.0C919.0 1000.8 921.4 989.4 923.8 989.4C927.0 989.4 930.2 1024.6 933.3 1066.7C935.7 1098.2 938.1 1135.5 940.5 1161.9C944.4 1206.0 948.4 1221.3 952.4 1221.3C956.3 1221.3 960.3 1210.8 964.3 1197.6C967.5 1187.1 970.6 1175.7 973.8 1161.9C977.8 1144.7 981.7 1119.0 985.7 1119.0C989.7 1119.0 993.7 1121.4 997.6 1121.4C1000.8 1121.4 1004.0 1105.2 1007.1 1090.5C1010.3 1075.7 1013.5 1059.2 1016.7 1042.9C1019.0 1030.6 1021.4 1019.1 1023.8 1019.1C1027.8 1019.1 1031.7 1057.3 1035.7 1090.5C1038.9 1117.0 1042.1 1141.2 1045.2 1161.9C1050.8 1198.2 1056.3 1219.0 1061.9 1219.0C1065.9 1219.0 1069.8 1196.1 1073.8 1173.8C1077.0 1156.0 1080.2 1136.2 1083.3 1114.3C1086.5 1092.4 1089.7 1068.4 1092.9 1054.8C1096.4 1039.4 1100.0 1038.2 1103.6 1038.2C1107.1 1038.2 1110.7 1043.6 1114.3 1052.4C1117.5 1060.2 1120.6 1071.4 1123.8 1081.0C1127.8 1092.9 1131.7 1102.3 1135.7 1114.3C1139.7 1126.3 1143.7 1140.8 1147.6 1150.0C1151.6 1159.2 1155.6 1163.1 1159.5 1169.0C1164.3 1176.2 1169.0 1183.3 1173.8 1183.3C1177.8 1183.3 1181.7 1168.8 1185.7 1138.1C1188.9 1113.5 1192.1 1076.9 1195.2 1042.9C1198.4 1008.8 1201.6 979.8 1204.8 979.8C1207.9 979.8 1211.1 1018.8 1214.3 1042.9C1218.3 1072.9 1222.2 1083.5 1226.2 1102.4C1228.6 1113.7 1231.0 1135.7 1233.3 1135.7C1237.3 1135.7 1241.3 1135.7 1245.2 1135.7C1250.0 1135.7 1254.8 1126.3 1259.5 1126.3C1261.9 1126.3 1264.3 1142.1 1266.7 1150.0C1269.8 1160.6 1273.0 1164.2 1276.2 1164.2C1279.4 1164.2 1282.5 1151.5 1285.7 1138.1C1288.9 1124.7 1292.1 1108.2 1295.2 1090.5C1298.4 1072.8 1301.6 1062.0 1304.8 1062.0C1307.1 1062.0 1309.5 1089.3 1311.9 1102.4C1314.7 1117.6 1317.5 1119.0 1320.2 1119.0C1323.8 1119.0 1327.4 1101.3 1331.0 1090.5C1334.9 1078.4 1338.9 1069.1 1342.9 1069.1C1345.2 1069.1 1347.6 1069.7 1350.0 1085.7C1351.6 1096.4 1353.2 1113.6 1354.8 1126.2C1357.1 1145.1 1359.5 1153.8 1361.9 1161.9C1364.3 1170.0 1366.7 1177.5 1369.0 1183.3C1371.4 1189.2 1373.8 1192.8 1376.2 1192.8C1378.6 1192.8 1381.0 1186.5 1383.3 1173.8C1385.7 1161.1 1388.1 1141.2 1390.5 1126.2C1392.9 1111.2 1395.2 1100.6 1397.6 1095.2C1400.8 1088.1 1404.0 1088.1 1407.1 1088.1C1410.3 1088.1 1413.5 1088.1 1416.7 1083.3C1419.0 1079.8 1421.4 1069.4 1423.8 1061.9C1426.2 1054.4 1428.6 1048.7 1431.0 1045.2C1433.3 1041.8 1435.7 1041.7 1438.1 1041.7C1441.3 1041.7 1444.4 1047.6 1447.6 1061.9C1450.0 1072.6 1452.4 1088.7 1454.8 1102.4C1457.1 1116.0 1459.5 1127.2 1461.9 1138.1C1464.3 1149.0 1466.7 1159.5 1469.0 1169.0C1471.8 1180.2 1474.6 1188.0 1477.4 1188.0C1479.4 1188.0 1481.3 1179.1 1483.3 1169.0C1485.7 1157.0 1488.1 1141.4 1490.5 1126.2C1492.9 1111.0 1495.2 1096.3 1497.6 1085.7C1500.8 1071.6 1504.0 1064.8 1507.1 1061.9C1509.5 1059.8 1511.9 1059.5 1514.3 1059.5C1516.7 1059.5 1519.0 1059.5 1521.4 1059.5C1523.8 1059.5 1526.2 1063.2 1528.6 1069.0C1531.0 1074.9 1533.3 1084.0 1535.7 1090.5C1538.9 1099.2 1542.1 1103.3 1545.2 1107.1C1548.4 1111.0 1551.6 1114.4 1554.8 1119.0C1557.1 1122.5 1559.5 1126.7 1561.9 1133.3C1564.3 1140.0 1566.7 1149.0 1569.0 1157.1C1573.0 1170.6 1577.0 1174.9 1581.0 1174.9C1583.3 1174.9 1585.7 1161.0 1588.1 1150.0C1591.3 1135.4 1594.4 1119.1 1597.6 1102.4C1600.8 1085.7 1604.0 1068.6 1607.1 1054.8C1609.5 1044.4 1611.9 1039.4 1614.3 1039.4C1616.7 1039.4 1619.0 1058.7 1621.4 1071.4C1623.8 1084.2 1626.2 1093.9 1628.6 1102.4C1631.0 1110.8 1633.3 1118.0 1635.7 1126.2C1637.3 1131.7 1638.9 1138.0 1640.5 1138.0C1642.9 1138.0 1645.2 1127.0 1647.6 1119.0C1650.4 1109.7 1653.2 1107.2 1656.0 1107.2C1658.7 1107.2 1661.5 1117.3 1664.3 1126.2C1666.7 1133.8 1669.0 1141.9 1671.4 1150.0C1673.8 1158.1 1676.2 1166.1 1678.6 1173.8C1681.7 1184.0 1684.9 1190.4 1688.1 1190.4C1690.5 1190.4 1692.9 1178.5 1695.2 1161.9C1697.6 1145.3 1700.0 1121.5 1702.4 1102.4C1704.8 1083.3 1707.1 1068.8 1709.5 1054.8C1711.9 1040.7 1714.3 1028.7 1716.7 1028.7C1719.0 1028.7 1721.4 1046.8 1723.8 1066.7C1726.2 1086.6 1728.6 1109.8 1731.0 1126.2C1733.3 1142.6 1735.7 1153.6 1738.1 1157.1C1739.7 1159.5 1741.3 1159.5 1742.9 1159.5C1745.2 1159.5 1747.6 1146.3 1750.0 1138.1C1752.4 1129.9 1754.8 1126.3 1757.1 1126.3C1759.5 1126.3 1761.9 1140.5 1764.3 1150.0C1766.7 1159.5 1769.0 1166.8 1771.4 1173.8C1773.4 1179.6 1775.4 1185.6 1777.4 1185.6C1780.2 1185.6 1782.9 1177.1 1785.7 1161.9C1788.1 1148.8 1790.5 1131.3 1792.9 1114.3C1795.2 1097.3 1797.6 1080.7 1800.0 1066.7C1802.4 1052.6 1804.8 1040.6 1807.1 1040.6C1809.5 1040.6 1811.9 1050.8 1814.3 1061.9C1816.7 1073.1 1819.0 1084.7 1821.4 1102.4C1823.0 1114.2 1824.6 1128.7 1826.2 1138.1C1828.2 1149.9 1830.2 1154.7 1832.1 1154.7C1834.9 1154.7 1837.7 1151.4 1840.5 1147.6C1842.9 1144.4 1845.2 1141.7 1847.6 1138.1C1850.0 1134.5 1852.4 1129.9 1854.8 1123.8C1857.1 1117.7 1859.5 1109.6 1861.9 1109.6C1864.3 1109.6 1866.7 1115.6 1869.0 1119.0C1872.2 1123.6 1875.4 1123.8 1878.6 1123.8C1883.3 1123.8 1888.1 1123.8 1892.9 1123.8C1895.2 1123.8 1897.6 1113.0 1900.0 1102.4C1902.4 1091.8 1904.8 1077.7 1907.1 1066.7C1909.5 1055.6 1911.9 1047.7 1914.3 1047.7C1916.7 1047.7 1919.0 1056.1 1921.4 1066.7C1923.0 1073.7 1924.6 1081.8 1926.2 1090.5C1928.6 1103.4 1931.0 1117.6 1933.3 1126.2C1935.7 1134.8 1938.1 1136.8 1940.5 1136.8C1943.7 1136.8 1946.8 1126.9 1950.0 1119.0C1953.2 1111.2 1956.3 1104.2 1959.5 1097.6C1962.3 1091.9 1965.1 1088.2 1967.9 1088.2C1970.6 1088.2 1973.4 1098.6 1976.2 1104.8C1979.4 1111.8 1982.5 1115.5 1985.7 1121.4C1988.1 1125.9 1990.5 1130.9 1992.9 1130.9C1995.2 1130.9 1997.6 1123.1 2000.0 1114.3C2002.4 1105.5 2004.8 1095.0 2007.1 1085.7C2009.5 1076.5 2011.9 1068.5 2014.3 1061.9C2016.3 1056.4 2018.3 1051.3 2020.2 1051.3C2022.2 1051.3 2024.2 1053.9 2026.2 1061.9C2028.6 1071.5 2031.0 1087.7 2033.3 1102.4C2035.7 1117.0 2038.1 1130.0 2040.5 1138.1C2042.9 1146.2 2045.2 1149.4 2047.6 1154.8C2050.0 1160.1 2052.4 1161.8 2054.8 1161.8C2057.1 1161.8 2059.5 1136.9 2061.9 1126.2C2064.3 1115.5 2066.7 1113.1 2069.0 1109.5C2072.6 1104.1 2076.2 1097.7 2079.8 1097.7C2081.7 1097.7 2083.7 1104.0 2085.7 1107.1"/>
<path stroke="#0000ff" stroke-width="6.0" d="M425.2 1101.6C426.6 1106.4 428.0 1111.1 429.3 1115.9C430.4 1119.6 431.4 1123.4 432.5 1136.4C433.4 1147.6 434.3 1165.7 435.2 1180.0C436.3 1197.1 437.4 1208.6 438.5 1220.9C439.5 1232.7 440.5 1245.2 441.6 1261.8C442.4 1274.1 443.1 1288.5 443.9 1302.7C444.5 1313.6 445.1 1324.3 445.7 1333.3C446.3 1342.9 447.0 1350.5 447.6 1357.1C448.4 1365.7 449.2 1372.6 450.0 1377.7C451.0 1383.4 451.9 1386.6 452.8 1386.6C453.7 1386.6 454.7 1382.6 455.6 1377.7C456.8 1371.9 457.9 1364.8 459.0 1357.1C460.1 1349.8 461.2 1342.0 462.3 1333.3C463.4 1324.9 464.4 1315.7 465.5 1309.5C467.5 1297.5 469.5 1296.9 471.6 1289.1C473.2 1283.0 474.8 1272.5 476.4 1264.5C478.6 1253.2 480.9 1246.9 483.2 1241.4C485.5 1235.8 487.7 1231.0 490.0 1227.7C492.7 1223.8 495.5 1222.1 498.2 1219.5C500.5 1217.4 502.7 1214.6 505.0 1212.7C506.6 1211.4 508.2 1210.5 509.8 1204.5C510.7 1201.2 511.6 1196.1 512.5 1192.3C513.1 1189.8 513.7 1187.7 514.3 1180.0C514.8 1172.9 515.4 1160.9 515.9 1136.4C516.4 1116.0 516.8 1086.9 517.3 1068.2C518.2 1030.8 519.1 1035.0 520.0 1000.0C520.3 987.2 520.7 969.1 521.0 950.0C521.4 925.2 521.9 898.6 522.3 860.0C522.7 827.4 523.0 786.2 523.4 750.0C523.8 710.5 524.2 677.1 524.6 650.0C525.0 622.9 525.4 602.2 525.8 570.0C526.1 543.1 526.5 508.2 526.8 474.0C527.2 436.4 527.5 399.6 527.9 369.0C528.4 327.3 528.9 297.2 529.4 265.0C529.7 243.5 530.1 221.2 530.4 205.0C530.7 188.8 531.1 179.5 531.4 179.5C531.8 179.5 532.1 193.4 532.5 205.0C533.1 222.9 533.6 236.5 534.2 265.0C534.7 291.8 535.3 331.7 535.8 369.0C536.3 406.3 536.9 441.2 537.4 474.0C537.9 506.8 538.5 537.7 539.0 570.0C539.4 596.3 539.9 623.5 540.3 650.0C540.8 680.6 541.3 710.3 541.8 750.0C542.2 781.8 542.6 819.9 543.0 860.0C543.3 893.4 543.7 928.1 544.0 950.0C544.3 971.9 544.7 981.1 545.0 1000.0C545.3 1018.1 545.6 1047.0 546.0 1057.1C546.3 1068.2 546.7 1066.0 547.0 1068.2C547.8 1073.0 548.5 1110.2 549.3 1136.4C549.9 1156.3 550.5 1169.8 551.1 1180.0C551.7 1190.9 552.4 1198.0 553.0 1204.5C553.8 1213.0 554.6 1220.5 555.5 1226.4C556.5 1233.6 557.5 1238.3 558.5 1242.7C559.8 1248.8 561.2 1254.3 562.5 1259.8C564.0 1265.8 565.5 1271.6 567.0 1277.5C568.6 1283.7 570.2 1289.9 571.8 1295.9C573.6 1302.7 575.5 1309.3 577.3 1313.6C579.1 1318.0 580.9 1320.2 582.7 1321.8C585.5 1324.3 588.2 1325.7 590.9 1326.6C593.6 1327.5 596.4 1328.6 599.1 1328.6C600.9 1328.6 602.7 1328.6 604.5 1327.3C605.9 1326.2 607.3 1322.0 608.6 1316.4C610.0 1310.7 611.4 1302.9 612.7 1295.9C614.1 1288.9 615.5 1282.7 616.8 1261.8C617.7 1247.9 618.6 1227.4 619.5 1220.9C620.2 1216.1 620.9 1219.1 621.6 1180.0C621.8 1167.0 622.0 1149.3 622.3 1136.4C623.2 1084.8 624.1 1110.4 625.0 1068.2C625.3 1052.7 625.7 1028.1 626.0 1010.0C626.9 963.0 627.7 960.2 628.6 945.0C629.3 932.2 630.1 910.5 630.8 881.0C631.6 848.8 632.4 807.2 633.2 774.0C633.8 747.7 634.5 726.6 635.1 707.0C635.9 682.2 636.7 659.7 637.5 640.0C638.2 622.8 638.9 607.7 639.6 590.0C640.0 580.7 640.3 570.8 640.7 563.0C641.0 557.4 641.2 553.0 641.5 553.0C641.8 553.0 642.0 557.8 642.3 563.0C642.7 571.4 643.2 581.1 643.6 590.0C644.5 608.4 645.4 623.2 646.3 640.0C647.4 660.0 648.4 682.8 649.5 707.0C650.4 727.4 651.3 748.7 652.2 774.0C653.4 807.7 654.6 848.6 655.8 881.0C656.7 906.2 657.7 926.2 658.6 945.0C659.7 967.8 660.9 988.8 662.0 1010.0C663.9 1046.3 665.9 1083.3 667.8 1110.7C670.5 1148.6 673.2 1168.3 675.8 1191.0C678.5 1213.8 681.2 1239.7 683.9 1258.0C687.4 1282.4 691.0 1293.5 694.6 1303.5C698.2 1313.6 701.7 1317.9 705.3 1317.9C708.0 1317.9 710.7 1303.0 713.3 1284.8C716.0 1266.6 718.7 1241.5 721.4 1191.0C723.2 1157.4 724.9 1112.4 726.7 1083.9C728.5 1055.4 730.3 1043.3 732.1 1003.6C732.9 984.9 733.8 960.1 734.6 940.0C736.7 889.7 738.8 867.5 740.9 867.5C743.0 867.5 745.2 885.8 747.3 913.6C749.1 937.1 750.9 966.6 752.7 986.0C754.2 1002.5 755.8 1011.0 757.3 1011.0C761.0 1011.0 764.6 954.5 768.3 954.5C770.4 954.5 772.6 979.1 774.7 1004.0C776.6 1025.8 778.4 1049.3 780.3 1083.9C782.1 1117.1 783.9 1160.4 785.6 1191.0C789.2 1252.3 792.8 1263.0 796.4 1263.0C800.8 1263.0 805.3 1246.6 809.7 1217.8C813.3 1194.8 816.9 1163.9 820.5 1137.5C824.0 1111.1 827.6 1089.2 831.2 1070.5C833.9 1056.5 836.5 1046.8 839.2 1046.8C841.9 1046.8 844.6 1066.2 847.2 1083.9C849.9 1101.6 852.6 1119.9 855.3 1137.5C857.1 1149.2 858.8 1157.2 860.6 1157.2C863.3 1157.2 866.0 1113.3 868.7 1083.9C872.4 1043.4 876.1 1029.8 879.8 1029.8C882.5 1029.8 885.3 1061.6 888.1 1090.5C891.3 1123.5 894.4 1159.4 897.6 1159.4C900.8 1159.4 904.0 1104.7 907.1 1090.5C911.9 1069.1 916.7 1069.1 921.4 1069.1C927.0 1069.1 932.5 1072.8 938.1 1083.3C941.3 1089.3 944.4 1099.3 947.6 1114.3C950.8 1129.3 954.0 1149.5 957.1 1161.9C960.3 1174.3 963.5 1179.1 966.7 1185.7C969.8 1192.4 973.0 1201.1 976.2 1201.1C979.4 1201.1 982.5 1193.0 985.7 1173.8C988.1 1159.4 990.5 1138.9 992.9 1090.5C994.0 1066.2 995.2 1035.0 996.4 1019.0C997.6 1003.1 998.8 1002.4 1000.0 1002.4C1002.4 1002.4 1004.8 1002.4 1007.1 997.6C1008.7 994.4 1010.3 981.8 1011.9 971.4C1013.1 963.6 1014.3 954.8 1015.5 954.8C1018.3 954.8 1021.0 987.0 1023.8 1019.0C1027.0 1055.6 1030.2 1088.9 1033.3 1114.3C1036.5 1139.7 1039.7 1157.3 1042.9 1173.8C1046.0 1190.3 1049.2 1205.6 1052.4 1216.7C1056.3 1230.5 1060.3 1236.8 1064.3 1236.8C1068.3 1236.8 1072.2 1227.0 1076.2 1209.5C1079.4 1195.6 1082.5 1176.1 1085.7 1150.0C1088.9 1123.9 1092.1 1091.0 1095.2 1066.7C1098.4 1042.3 1101.6 1026.5 1104.8 1007.1C1107.1 992.6 1109.5 971.5 1111.9 971.5C1115.1 971.5 1118.3 980.0 1121.4 988.1C1123.8 994.2 1126.2 996.6 1128.6 1007.1C1131.7 1021.2 1134.9 1049.7 1138.1 1078.6C1141.3 1107.5 1144.4 1136.8 1147.6 1161.9C1150.8 1187.0 1154.0 1207.8 1157.1 1221.4C1161.1 1238.4 1165.1 1244.0 1169.0 1244.0C1173.0 1244.0 1177.0 1238.0 1181.0 1221.4C1184.1 1208.1 1187.3 1188.0 1190.5 1161.9C1193.7 1135.8 1196.8 1103.8 1200.0 1078.6C1203.2 1053.3 1206.3 1034.7 1209.5 1019.0C1211.9 1007.3 1214.3 997.1 1216.7 988.1C1219.8 976.0 1223.0 967.9 1226.2 967.9C1227.8 967.9 1229.4 972.9 1231.0 983.3C1233.3 999.0 1235.7 1029.1 1238.1 1054.8C1241.3 1088.9 1244.4 1115.0 1247.6 1138.1C1250.8 1161.2 1254.0 1181.3 1257.1 1197.6C1260.3 1213.9 1263.5 1226.3 1266.7 1238.1C1270.2 1251.3 1273.8 1259.4 1277.4 1259.4C1280.2 1259.4 1282.9 1242.7 1285.7 1221.4C1288.1 1203.2 1290.5 1179.3 1292.9 1138.1C1294.4 1110.6 1296.0 1075.5 1297.6 1042.9C1299.2 1010.3 1300.8 980.2 1302.4 959.5C1304.4 933.7 1306.3 921.5 1308.3 921.5C1311.1 921.5 1313.9 938.6 1316.7 959.5C1319.0 977.4 1321.4 997.1 1323.8 1019.0C1326.2 1041.0 1328.6 1065.1 1331.0 1078.6C1333.3 1092.0 1335.7 1094.7 1338.1 1102.4C1340.5 1110.1 1342.9 1122.8 1345.2 1138.1C1347.6 1153.3 1350.0 1171.1 1352.4 1185.7C1354.8 1200.3 1357.1 1211.8 1359.5 1216.7C1361.1 1219.9 1362.7 1220.2 1364.3 1220.2C1368.3 1220.2 1372.2 1218.4 1376.2 1216.7C1378.6 1215.6 1381.0 1214.6 1383.3 1211.9C1385.7 1209.2 1388.1 1204.7 1390.5 1185.7C1392.1 1173.1 1393.7 1154.0 1395.2 1138.1C1397.6 1114.2 1400.0 1097.2 1402.4 1066.7C1404.0 1046.3 1405.6 1019.8 1407.1 995.2C1408.7 970.6 1410.3 947.9 1411.9 935.7C1413.1 926.6 1414.3 923.9 1415.5 923.9C1417.5 923.9 1419.4 935.3 1421.4 947.6C1423.8 962.4 1426.2 979.7 1428.6 1007.1C1430.2 1025.5 1431.7 1048.4 1433.3 1066.7C1434.9 1085.0 1436.5 1098.7 1438.1 1114.3C1439.7 1129.9 1441.3 1147.4 1442.9 1157.1C1444.4 1166.9 1446.0 1169.0 1447.6 1171.4C1450.0 1175.1 1452.4 1179.5 1454.8 1181.0C1457.9 1182.9 1461.1 1181.0 1464.3 1183.3C1466.7 1185.1 1469.0 1193.1 1471.4 1197.6C1473.4 1201.4 1475.4 1204.7 1477.4 1204.7C1480.2 1204.7 1482.9 1204.7 1485.7 1195.2C1488.1 1187.1 1490.5 1168.0 1492.9 1150.0C1495.2 1132.0 1497.6 1113.9 1500.0 1090.5C1502.4 1067.1 1504.8 1038.5 1507.1 1019.0C1508.7 1006.1 1510.3 997.2 1511.9 990.5C1513.9 982.1 1515.9 976.3 1517.9 976.3C1520.2 976.3 1522.6 980.5 1525.0 990.5C1526.2 995.5 1527.4 1001.7 1528.6 1004.8C1530.6 1009.9 1532.5 1006.4 1534.5 1019.0C1535.7 1026.7 1536.9 1040.1 1538.1 1054.8C1539.7 1074.3 1541.3 1095.8 1542.9 1114.3C1544.4 1132.7 1546.0 1148.0 1547.6 1161.9C1549.2 1175.8 1550.8 1188.2 1552.4 1197.6C1555.2 1214.1 1557.9 1221.3 1560.7 1221.3C1563.5 1221.3 1566.3 1213.8 1569.0 1209.5C1573.0 1203.5 1577.0 1204.1 1581.0 1192.9C1582.5 1188.4 1584.1 1182.0 1585.7 1173.8C1588.1 1161.6 1590.5 1145.4 1592.9 1126.2C1595.2 1107.0 1597.6 1084.9 1600.0 1066.7C1602.4 1048.5 1604.8 1034.2 1607.1 1019.0C1609.5 1003.8 1611.9 987.7 1614.3 976.2C1616.7 964.7 1619.0 958.4 1621.4 958.4C1623.8 958.4 1626.2 966.7 1628.6 978.6C1631.0 990.4 1633.3 1006.3 1635.7 1019.0C1638.1 1031.8 1640.5 1041.4 1642.9 1066.7C1644.4 1083.5 1646.0 1107.4 1647.6 1126.2C1649.2 1145.0 1650.8 1158.6 1652.4 1173.8C1654.0 1189.0 1655.6 1205.7 1657.1 1216.7C1659.5 1233.1 1661.9 1235.6 1664.3 1235.6C1666.7 1235.6 1669.0 1228.5 1671.4 1221.4C1674.6 1212.0 1677.8 1200.6 1681.0 1190.5C1684.1 1180.4 1687.3 1171.7 1690.5 1157.1C1692.9 1146.3 1695.2 1132.1 1697.6 1114.3C1700.0 1096.5 1702.4 1074.9 1704.8 1054.8C1707.1 1034.6 1709.5 1015.8 1711.9 1000.0C1714.9 980.0 1717.9 965.6 1721.0 965.6C1723.5 965.6 1726.0 977.6 1728.6 995.2C1731.0 1011.7 1733.3 1033.5 1735.7 1042.9C1738.1 1052.2 1740.5 1049.0 1742.9 1071.4C1744.0 1082.7 1745.2 1100.3 1746.4 1114.3C1748.4 1137.6 1750.4 1150.8 1752.4 1161.9C1754.8 1175.2 1757.1 1185.6 1759.5 1192.9C1763.5 1205.0 1767.5 1209.4 1771.4 1209.4C1775.4 1209.4 1779.4 1207.8 1783.3 1195.2C1785.7 1187.7 1788.1 1176.5 1790.5 1161.9C1792.9 1147.3 1795.2 1129.3 1797.6 1114.3C1800.8 1094.2 1804.0 1079.4 1807.1 1054.8C1809.1 1039.3 1811.1 1020.1 1813.1 1007.1C1815.9 989.0 1818.7 981.0 1821.4 981.0C1824.2 981.0 1827.0 981.0 1829.8 995.2C1831.7 1005.4 1833.7 1024.0 1835.7 1042.9C1837.3 1057.9 1838.9 1073.5 1840.5 1090.5C1842.1 1107.4 1843.7 1125.7 1845.2 1138.1C1846.8 1150.5 1848.4 1157.1 1850.0 1161.9C1851.6 1166.7 1853.2 1171.4 1854.8 1171.4C1856.3 1171.4 1857.9 1171.4 1859.5 1171.4C1861.9 1171.4 1864.3 1167.9 1866.7 1167.9C1868.3 1167.9 1869.8 1178.5 1871.4 1185.7C1874.2 1198.3 1877.0 1209.4 1879.8 1209.4C1882.5 1209.4 1885.3 1197.2 1888.1 1185.7C1890.5 1175.9 1892.9 1166.5 1895.2 1150.0C1897.6 1133.5 1900.0 1110.0 1902.4 1090.5C1904.8 1070.9 1907.1 1055.4 1909.5 1042.9C1911.9 1030.3 1914.3 1020.9 1916.7 1014.3C1919.0 1007.7 1921.4 1004.0 1923.8 995.2C1925.8 987.9 1927.8 975.1 1929.8 975.1C1931.7 975.1 1933.7 979.8 1935.7 995.2C1937.3 1007.6 1938.9 1025.5 1940.5 1042.9C1942.1 1060.2 1943.7 1077.1 1945.2 1090.5C1947.6 1110.6 1950.0 1123.0 1952.4 1138.1C1954.8 1153.2 1957.1 1170.9 1959.5 1185.7C1961.9 1200.5 1964.3 1212.3 1966.7 1221.4C1968.7 1229.0 1970.6 1235.6 1972.6 1235.6C1975.4 1235.6 1978.2 1228.8 1981.0 1219.0C1983.3 1210.7 1985.7 1201.0 1988.1 1185.7C1990.5 1170.4 1992.9 1149.4 1995.2 1126.2C1996.8 1110.7 1998.4 1094.3 2000.0 1078.6C2001.6 1062.8 2003.2 1047.7 2004.8 1038.1C2006.3 1028.5 2007.9 1023.2 2009.5 1022.6C2012.7 1021.4 2015.9 1022.6 2019.0 1021.4C2020.6 1020.8 2022.2 1014.3 2023.8 1011.9C2025.4 1009.5 2027.0 1009.5 2028.6 1009.5C2031.0 1009.5 2033.3 1009.5 2035.7 1023.8C2037.3 1033.3 2038.9 1050.1 2040.5 1066.7C2042.1 1083.3 2043.7 1100.0 2045.2 1114.3C2046.8 1128.6 2048.4 1140.4 2050.0 1150.0C2052.4 1164.3 2054.8 1173.5 2057.1 1181.0C2060.3 1190.8 2063.5 1197.5 2066.7 1197.5C2069.8 1197.5 2073.0 1190.8 2076.2 1185.7C2079.4 1180.6 2082.5 1177.8 2085.7 1173.8"/>
<path stroke="#000000" stroke-width="6.6" d="M425.2 1101.6C426.6 1106.4 428.0 1111.1 429.3 1115.9C430.4 1119.6 431.4 1123.4 432.5 1136.4C433.4 1147.6 434.3 1165.9 435.2 1180.0C436.3 1196.9 437.4 1208.0 438.5 1220.9C439.5 1233.3 440.5 1247.4 441.6 1261.8C442.6 1276.2 443.7 1290.9 444.7 1302.7C445.7 1314.1 446.7 1322.9 447.7 1330.0C448.7 1337.1 449.7 1342.5 450.7 1346.4C451.5 1349.5 452.4 1352.1 453.2 1352.1C454.0 1352.1 454.8 1351.7 455.6 1346.4C456.6 1339.8 457.6 1326.7 458.6 1316.4C460.5 1297.6 462.3 1287.9 464.1 1275.5C465.9 1263.0 467.7 1247.7 469.5 1234.5C471.1 1223.0 472.7 1213.1 474.3 1200.5C475.2 1193.2 476.1 1185.1 477.0 1177.3C478.6 1163.6 480.2 1151.1 481.8 1136.4C483.0 1125.8 484.1 1114.1 485.2 1102.3C486.4 1090.5 487.5 1078.6 488.6 1068.2C489.8 1057.8 490.9 1048.9 492.0 1040.9C493.2 1032.9 494.3 1025.8 495.5 1020.5C496.6 1015.2 497.7 1011.7 498.9 1009.5C500.0 1007.4 501.1 1006.1 502.3 1006.1C503.4 1006.1 504.5 1006.1 505.7 1010.9C506.8 1015.7 508.0 1025.8 509.1 1034.1C510.5 1044.1 511.8 1051.8 513.2 1061.4C514.1 1067.8 515.0 1075.0 515.9 1081.8C517.3 1092.0 518.6 1101.1 520.0 1109.1C521.4 1117.1 522.7 1123.8 524.1 1129.5C526.4 1139.0 528.6 1145.5 530.9 1150.0C532.7 1153.6 534.5 1156.0 536.4 1157.5C538.2 1159.0 540.0 1159.5 541.8 1159.5C543.6 1159.5 545.5 1158.2 547.3 1156.8C549.1 1155.4 550.9 1153.6 552.7 1143.2C553.6 1138.2 554.5 1131.2 555.3 1124.1C558.0 1101.9 560.7 1077.8 563.4 1057.1C567.6 1024.8 571.8 1006.6 576.0 1006.6C579.8 1006.6 583.6 1041.4 587.5 1070.5C591.0 1097.6 594.6 1124.1 598.2 1142.8C602.6 1166.3 607.1 1174.6 611.6 1174.6C616.0 1174.6 620.5 1154.3 625.0 1124.1C628.5 1099.9 632.1 1067.4 635.7 1043.7C639.2 1020.0 642.8 1007.2 646.4 1007.2C650.0 1007.2 653.5 1028.1 657.1 1057.1C660.7 1086.1 664.2 1125.1 667.8 1150.9C672.3 1183.0 676.7 1186.6 681.2 1186.6C684.8 1186.6 688.3 1161.7 691.9 1137.5C695.5 1113.2 699.1 1083.5 702.6 1057.1C706.6 1027.5 710.7 1003.9 714.7 1003.9C718.7 1003.9 722.7 1034.4 726.7 1070.5C730.3 1102.6 733.9 1140.6 737.4 1164.2C741.0 1187.9 744.6 1194.7 748.2 1194.7C752.2 1194.7 756.2 1174.1 760.2 1150.9C764.2 1127.6 768.2 1098.7 772.3 1070.5C776.3 1042.3 780.3 1016.8 784.3 1016.8C788.3 1016.8 792.3 1050.8 796.4 1083.9C799.9 1113.3 803.5 1145.3 807.1 1164.2C811.5 1188.0 816.0 1188.0 820.5 1188.0C824.9 1188.0 829.4 1142.3 833.9 1110.7C836.5 1091.7 839.2 1073.5 841.9 1057.1C845.5 1035.3 849.0 1024.0 852.6 1024.0C855.7 1024.0 858.8 1055.8 861.9 1078.6C865.1 1101.9 868.3 1122.2 871.4 1138.1C877.4 1167.9 883.3 1174.9 889.3 1174.9C894.4 1174.9 899.6 1147.2 904.8 1114.3C907.1 1099.1 909.5 1081.5 911.9 1066.7C914.7 1049.4 917.5 1033.4 920.2 1033.4C923.8 1033.4 927.4 1045.4 931.0 1066.7C934.1 1085.6 937.3 1109.4 940.5 1126.2C943.7 1143.0 946.8 1152.8 950.0 1161.9C952.4 1168.8 954.8 1173.7 957.1 1173.7C960.3 1173.7 963.5 1155.2 966.7 1138.1C969.8 1120.9 973.0 1103.1 976.2 1090.5C980.6 1073.2 984.9 1066.7 989.3 1066.7C993.7 1066.7 998.0 1076.4 1002.4 1090.5C1006.3 1103.3 1010.3 1120.5 1014.3 1133.3C1017.9 1144.9 1021.4 1151.1 1025.0 1151.1C1029.4 1151.1 1033.7 1131.8 1038.1 1114.3C1041.3 1101.6 1044.4 1088.6 1047.6 1078.6C1050.4 1069.8 1053.2 1065.6 1056.0 1065.6C1059.5 1065.6 1063.1 1086.7 1066.7 1102.4C1069.8 1116.3 1073.0 1128.4 1076.2 1138.1C1080.2 1150.2 1084.1 1155.9 1088.1 1155.9C1092.1 1155.9 1096.0 1139.0 1100.0 1126.2C1104.0 1113.4 1107.9 1101.9 1111.9 1090.5C1115.9 1079.1 1119.8 1067.9 1123.8 1067.9C1126.2 1067.9 1128.6 1072.3 1131.0 1081.0C1134.1 1092.5 1137.3 1112.0 1140.5 1126.2C1146.0 1151.1 1151.6 1155.9 1157.1 1155.9C1161.1 1155.9 1165.1 1143.7 1169.0 1133.3C1173.8 1120.9 1178.6 1107.0 1183.3 1090.5C1188.1 1074.0 1192.9 1063.2 1197.6 1063.2C1200.0 1063.2 1202.4 1078.3 1204.8 1090.5C1207.1 1102.6 1209.5 1116.0 1211.9 1126.2C1215.1 1139.8 1218.3 1145.2 1221.4 1145.2C1223.8 1145.2 1226.2 1132.1 1228.6 1132.1C1231.0 1132.1 1233.3 1133.6 1235.7 1134.5C1238.9 1135.7 1242.1 1135.7 1245.2 1135.7C1248.4 1135.7 1251.6 1113.9 1254.8 1102.4C1259.9 1083.7 1265.1 1079.8 1270.2 1079.8C1273.8 1079.8 1277.4 1090.1 1281.0 1102.4C1283.3 1110.6 1285.7 1120.8 1288.1 1126.2C1290.5 1131.6 1292.9 1132.1 1295.2 1132.1C1299.2 1132.1 1303.2 1129.8 1307.1 1128.6C1310.3 1127.6 1313.5 1127.2 1316.7 1126.2C1319.8 1125.2 1323.0 1123.5 1326.2 1119.0C1329.4 1114.6 1332.5 1104.8 1335.7 1104.8C1338.1 1104.8 1340.5 1104.8 1342.9 1104.8C1346.0 1104.8 1349.2 1109.2 1352.4 1114.3C1355.6 1119.3 1358.7 1127.3 1361.9 1127.3C1364.3 1127.3 1366.7 1124.6 1369.0 1119.0C1370.6 1115.4 1372.2 1110.7 1373.8 1107.1C1376.6 1100.9 1379.4 1098.9 1382.1 1098.9C1384.9 1098.9 1387.7 1103.9 1390.5 1109.5C1392.9 1114.3 1395.2 1121.2 1397.6 1122.6C1399.6 1123.8 1401.6 1123.8 1403.6 1123.8C1405.6 1123.8 1407.5 1121.9 1409.5 1119.0C1411.9 1115.6 1414.3 1109.8 1416.7 1107.1C1419.8 1103.6 1423.0 1105.6 1426.2 1103.6C1429.4 1101.6 1432.5 1095.3 1435.7 1095.3C1438.9 1095.3 1442.1 1100.8 1445.2 1104.8C1448.4 1108.7 1451.6 1110.8 1454.8 1114.3C1457.9 1117.7 1461.1 1122.5 1464.3 1126.2C1466.3 1128.5 1468.3 1129.8 1470.2 1129.8C1473.0 1129.8 1475.8 1123.0 1478.6 1119.0C1481.7 1114.6 1484.9 1112.6 1488.1 1111.9C1491.3 1111.2 1494.4 1111.6 1497.6 1109.5C1500.8 1107.4 1504.0 1102.8 1507.1 1100.0C1509.5 1097.9 1511.9 1097.6 1514.3 1097.6C1516.7 1097.6 1519.0 1100.9 1521.4 1104.8C1523.8 1108.6 1526.2 1113.7 1528.6 1116.7C1531.7 1120.7 1534.9 1121.0 1538.1 1121.4C1542.1 1122.0 1546.0 1123.8 1550.0 1123.8C1554.0 1123.8 1557.9 1123.8 1561.9 1121.4C1564.3 1120.0 1566.7 1114.0 1569.0 1109.5C1571.4 1105.0 1573.8 1100.7 1576.2 1097.6C1577.8 1095.5 1579.4 1094.0 1581.0 1094.0C1583.3 1094.0 1585.7 1097.8 1588.1 1102.4C1590.5 1106.9 1592.9 1112.4 1595.2 1119.0C1597.6 1125.7 1600.0 1133.6 1602.4 1138.1C1604.8 1142.6 1607.1 1144.0 1609.5 1144.0C1612.7 1144.0 1615.9 1142.9 1619.0 1140.5C1622.2 1138.0 1625.4 1134.5 1628.6 1126.2C1631.0 1120.0 1633.3 1111.1 1635.7 1102.4C1638.1 1093.6 1640.5 1085.0 1642.9 1078.6C1644.8 1073.2 1646.8 1068.7 1648.8 1068.7C1651.2 1068.7 1653.6 1072.0 1656.0 1081.0C1657.9 1088.4 1659.9 1099.4 1661.9 1107.1C1664.3 1116.5 1666.7 1121.3 1669.0 1126.2C1672.2 1132.7 1675.4 1139.4 1678.6 1142.9C1681.7 1146.3 1684.9 1146.4 1688.1 1146.4C1691.3 1146.4 1694.4 1145.8 1697.6 1138.1C1700.0 1132.3 1702.4 1122.6 1704.8 1114.3C1707.1 1106.0 1709.5 1099.3 1711.9 1095.2C1713.5 1092.6 1715.1 1091.7 1716.7 1091.7C1719.0 1091.7 1721.4 1097.9 1723.8 1102.4C1726.2 1106.9 1728.6 1111.9 1731.0 1111.9C1734.9 1111.9 1738.9 1111.9 1742.9 1111.9C1746.0 1111.9 1749.2 1117.4 1752.4 1120.2C1755.6 1123.1 1758.7 1123.8 1761.9 1123.8C1765.1 1123.8 1768.3 1120.5 1771.4 1116.7C1774.6 1112.9 1777.8 1107.9 1781.0 1104.8C1784.1 1101.6 1787.3 1101.2 1790.5 1101.2C1792.9 1101.2 1795.2 1104.8 1797.6 1104.8C1800.8 1104.8 1804.0 1104.8 1807.1 1104.8C1810.3 1104.8 1813.5 1102.4 1816.7 1102.4C1819.0 1102.4 1821.4 1108.3 1823.8 1114.3C1826.2 1120.3 1828.6 1127.9 1831.0 1133.3C1833.7 1139.6 1836.5 1142.8 1839.3 1142.8C1842.1 1142.8 1844.8 1139.2 1847.6 1133.3C1850.0 1128.3 1852.4 1121.6 1854.8 1114.3C1857.1 1107.0 1859.5 1099.1 1861.9 1092.9C1865.1 1084.6 1868.3 1081.0 1871.4 1081.0C1873.8 1081.0 1876.2 1087.6 1878.6 1092.9C1881.0 1098.1 1883.3 1103.3 1885.7 1107.1C1888.9 1112.2 1892.1 1114.8 1895.2 1119.0C1899.2 1124.3 1903.2 1132.1 1907.1 1132.1C1910.3 1132.1 1913.5 1126.7 1916.7 1121.4C1919.8 1116.1 1923.0 1110.8 1926.2 1107.1C1930.2 1102.6 1934.1 1100.5 1938.1 1097.6C1942.9 1094.1 1947.6 1089.4 1952.4 1089.4C1955.6 1089.4 1958.7 1091.7 1961.9 1097.6C1964.3 1102.1 1966.7 1108.5 1969.0 1114.3C1971.4 1120.0 1973.8 1125.0 1976.2 1127.4C1978.6 1129.8 1981.0 1129.8 1983.3 1129.8C1988.1 1129.8 1992.9 1129.8 1997.6 1127.4C2000.0 1126.2 2002.4 1120.3 2004.8 1114.3C2007.1 1108.2 2009.5 1100.6 2011.9 1095.2C2014.3 1089.9 2016.7 1087.0 2019.0 1087.0C2021.4 1087.0 2023.8 1091.0 2026.2 1095.2C2028.6 1099.5 2031.0 1104.3 2033.3 1109.5C2035.7 1114.7 2038.1 1120.2 2040.5 1123.8C2043.7 1128.6 2046.8 1129.8 2050.0 1129.8C2053.2 1129.8 2056.3 1127.9 2059.5 1126.2C2063.5 1124.0 2067.5 1121.7 2071.4 1119.0C2075.4 1116.4 2079.4 1113.5 2083.3 1110.7"/>
</g>
<g style="filter:blur(1.7px)">
<rect x="340.0" y="39.0" width="1820.1999999999998" height="1467.0" fill="none" stroke="#000" stroke-width="8.0" stroke-linejoin="round"/>
<path d="M340.0 1506.0h32M340.0 1408.3h18M340.0 1310.5h32M340.0 1212.7h18M340.0 1114.9h32M340.0 1017.1h18M340.0 919.3h32M340.0 821.5h18M340.0 723.8h32M340.0 626.0h18M340.0 528.2h32M340.0 430.4h18M340.0 332.6h32M340.0 234.8h18M340.0 137.1h32M425.6 1506.0v-32M599.0 1506.0v-18M772.5 1506.0v-32M946.0 1506.0v-18M1119.4 1506.0v-32M1292.8 1506.0v-18M1466.3 1506.0v-32M1639.8 1506.0v-18M1813.2 1506.0v-32M1986.7 1506.0v-18" stroke="#000" stroke-width="7.0" fill="none"/>
</g>
<g font-family="'Liberation Sans', Arial, sans-serif" font-size="76.6" fill="#0a0a0a"  style="filter:blur(1.3px)">
<text transform="translate(307.6 1529.6) scale(1 1.04)" text-anchor="end" font-size="77.0">-100</text>
<text transform="translate(307.6 1334.1) scale(1 1.04)" text-anchor="end" font-size="77.0">-50</text>
<text transform="translate(307.6 1138.5) scale(1 1.04)" text-anchor="end" font-size="77.0">0</text>
<text transform="translate(307.6 942.9) scale(1 1.04)" text-anchor="end" font-size="77.0">50</text>
<text transform="translate(307.6 747.4) scale(1 1.04)" text-anchor="end" font-size="77.0">100</text>
<text transform="translate(307.6 551.8) scale(1 1.04)" text-anchor="end" font-size="77.0">150</text>
<text transform="translate(307.6 356.2) scale(1 1.04)" text-anchor="end" font-size="77.0">200</text>
<text transform="translate(307.6 160.7) scale(1 1.04)" text-anchor="end" font-size="77.0">250</text>
<text transform="translate(425.1 1597.6) scale(1 1.04)" text-anchor="middle" font-size="77.0">0</text>
<text transform="translate(772.0 1597.6) scale(1 1.04)" text-anchor="middle" font-size="77.0">2000</text>
<text transform="translate(1118.9 1597.6) scale(1 1.04)" text-anchor="middle" font-size="77.0">4000</text>
<text transform="translate(1465.8 1597.6) scale(1 1.04)" text-anchor="middle" font-size="77.0">6000</text>
<text transform="translate(1812.7 1597.6) scale(1 1.04)" text-anchor="middle" font-size="77.0">8000</text>
<text transform="translate(2159.6 1597.6) scale(1 1.04)" text-anchor="middle" font-size="77.0">10000</text>
<text transform="translate(1234.0 1703.3)" text-anchor="middle">Timestep</text>
<text transform="translate(97.2 770.0) rotate(-90)" text-anchor="middle">Fz of bottom layer graphene/nN</text>
<path d="M1369 307.5H1542" stroke="#ff0000" stroke-width="6.8" stroke-linecap="round" fill="none"/>
<text transform="translate(1560.7 333.2) scale(1 1.03)" text-anchor="start" font-size="76.0">5 Å/ps</text>
<path d="M1369 401.4H1542" stroke="#0000ff" stroke-width="6.8" stroke-linecap="round" fill="none"/>
<text transform="translate(1561.7 427.1) scale(1 1.03)" text-anchor="start" font-size="76.0">6.98 Å/ps</text>
<path d="M1369 495.3H1542" stroke="#000000" stroke-width="6.8" stroke-linecap="round" fill="none"/>
<text transform="translate(1563.2 521.0) scale(1 1.03)" text-anchor="start" font-size="76.0">10.16 Å/ps</text>
</g>
</svg>
</body>
</html>
